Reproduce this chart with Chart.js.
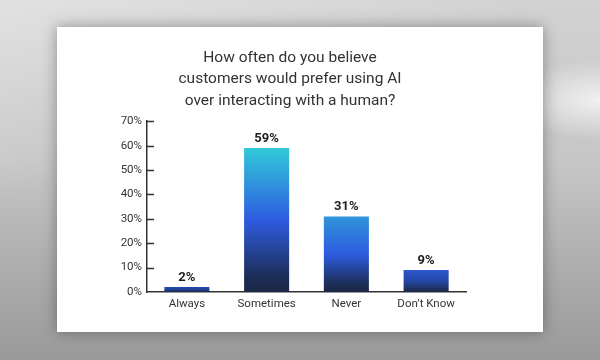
<!DOCTYPE html>
<html>
<head>
<meta charset="utf-8">
<script src="https://cdn.jsdelivr.net/npm/chart.js@4/dist/chart.umd.min.js"></script>
<style>
  html, body { margin: 0; padding: 0; }
  body {
    width: 600px; height: 360px; overflow: hidden; position: relative;
    background:
      radial-gradient(ellipse 90px 40px at 600px 100px, rgba(245,245,245,0.9), rgba(245,245,245,0) 100%),
      linear-gradient(160deg, rgba(255,255,255,0.35) 0%, rgba(255,255,255,0) 35%),
      linear-gradient(180deg, #d2d2d2 0%, #c6c6c6 45%, #a9a9a9 80%, #9a9a9a 100%);
  }
  #card {
    position: absolute; left: 57px; top: 27px; width: 486px; height: 305px;
    background: #fff;
    box-shadow: 0 0 14px rgba(0,0,0,0.35);
  }
  #wrap { position: absolute; left: 57px; top: 27px; width: 470px; height: 305px; }
</style>
</head>
<body>
<div id="card"></div>
<div id="wrap"><canvas id="chart" width="470" height="305"></canvas></div>
<script>
// chart values
const categories = ["Always", "Sometimes", "Never", "Don\u2019t Know"];
const percentages = [2, 59, 31, 9];
const yTicks = [0, 10, 20, 30, 40, 50, 60, 70];
const titleLines = [
  "How often do you believe",
  "customers would prefer using AI",
  "over interacting with a human?"
];

const FONT = "Roboto, 'Noto Sans', sans-serif";

// mix two hex colours
function mix(a, b, t) {
  const pa = [1, 3, 5].map(i => parseInt(a.substr(i, 2), 16));
  const pb = [1, 3, 5].map(i => parseInt(b.substr(i, 2), 16));
  const c = pa.map((v, i) => Math.round(v + (pb[i] - v) * t));
  return `rgb(${c[0]},${c[1]},${c[2]})`;
}

// each bar gets its own vertical gradient, top colour depends on the value
function barGradient(ctx) {
  const chart = ctx.chart;
  if (!chart.chartArea) return '#2e5be0';
  const y = chart.scales.y;
  const v = ctx.raw;
  const base = y.getPixelForValue(0);
  const top = y.getPixelForValue(v);
  const maxV = Math.max(...percentages);
  const t = v / maxV;
  const g = chart.ctx.createLinearGradient(0, base, 0, top);
  g.addColorStop(0, '#1b2744');
  g.addColorStop(0.1, '#1c2d55');
  g.addColorStop(0.5, mix('#1f3f8e', '#2e5ce0', Math.min(1, t * 2)));
  g.addColorStop(1, t < 0.2 ? mix('#2448a8', '#2f5cd8', t * 5) : mix('#2f5cdd', '#31c9d8', t));
  return g;
}

// short tick marks drawn inward from the y axis, plus value labels
const extras = {
  id: 'extras',
  afterDraw(chart) {
    const c = chart.ctx;
    const y = chart.scales.y;
    const left = chart.chartArea.left;
    c.save();
    c.strokeStyle = '#333';
    c.lineWidth = 1.5;
    y.ticks.forEach((t, i) => {
      if (t.value === 0) return;
      const py = Math.round(y.getPixelForTick(i)) + 0.5;
      c.beginPath();
      c.moveTo(left, py);
      c.lineTo(left + 7, py);
      c.stroke();
    });
    c.fillStyle = '#1e1e1e';
    c.font = `bold 13px ${FONT}`;
    c.textAlign = 'center';
    c.textBaseline = 'bottom';
    chart.getDatasetMeta(0).data.forEach((bar, i) => {
      c.fillText(percentages[i] + '%', bar.x, bar.y - 3);
    });
    c.restore();
  }
};

new Chart(document.getElementById('chart'), {
  type: 'bar',
  data: {
    labels: categories,
    datasets: [{
      data: percentages,
      backgroundColor: barGradient,
      borderWidth: 0,
      barPercentage: 0.565,
      categoryPercentage: 1
    }]
  },
  options: {
    responsive: false,
    animation: false,
    layout: { padding: { left: 57, right: 61, top: 0, bottom: 0 } },
    plugins: {
      legend: { display: false },
      tooltip: { enabled: false },
      title: {
        display: true,
        text: titleLines,
        color: '#333',
        font: { family: FONT, size: 15.5, weight: 'normal', lineHeight: 1.36 },
        padding: { top: 21, bottom: 10 }
      }
    },
    scales: {
      x: {
        grid: { display: false, drawTicks: false },
        border: { display: true, color: '#333', width: 1.5 },
        ticks: { color: '#333', font: { family: FONT, size: 11.5 }, padding: 5 },
        afterFit: s => { s.height = 40; }
      },
      y: {
        min: 0,
        max: 70,
        afterBuildTicks: s => { s.ticks = yTicks.map(v => ({ value: v })); },
        grid: { display: false, drawTicks: false },
        border: { display: true, color: '#333', width: 1.5 },
        ticks: {
          color: '#333',
          font: { family: FONT, size: 11.5 },
          padding: 5,
          callback: v => v + '%'
        },
        afterFit: s => { s.width = 33; }
      }
    }
  },
  plugins: [extras]
});
</script>
</body>
</html>
